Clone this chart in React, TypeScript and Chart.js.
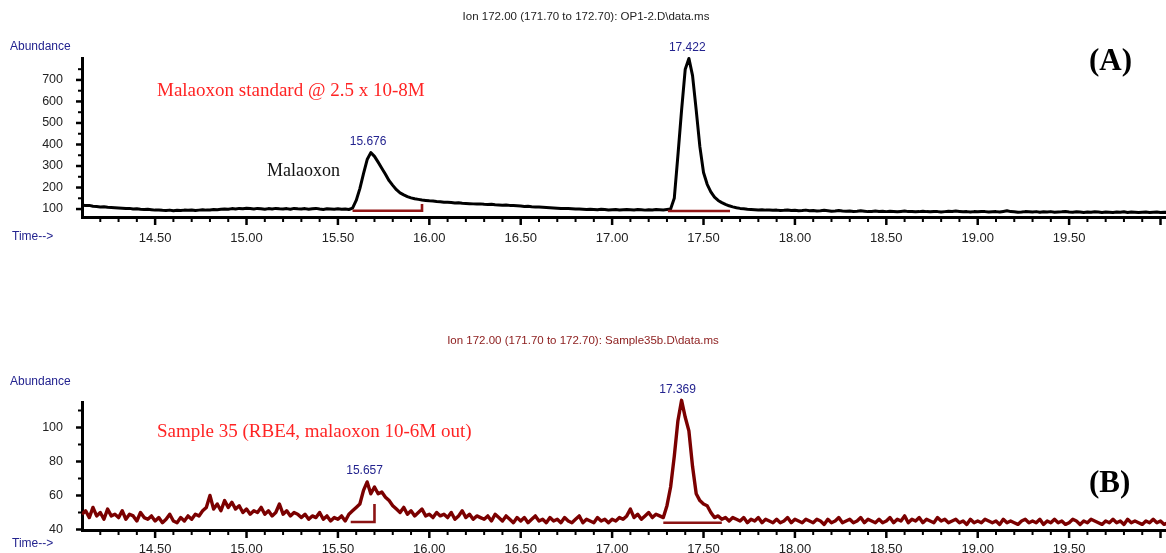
import React, { useEffect, useRef } from 'react';
import { Chart, registerables } from 'chart.js';

Chart.register(...registerables);

// ---- time axis (minutes), samples every 0.02 min from 14.10 ----
const T_START = 14.1;
const T_STEP = 0.02;

// ---- (A) Malaoxon standard, abundance ----
const abundanceA = [
  118, 116, 117, 113, 112, 110, 111, 108, 107, 106,
  105, 104, 102, 103, 100, 101, 99, 98, 99, 97,
  95, 96, 94, 93, 95, 92, 94, 93, 95, 94,
  96, 93, 95, 97, 95, 96, 98, 97, 99, 100,
  99, 102, 100, 103, 101, 104, 102, 100, 103, 101,
  99, 102, 100, 103, 101, 100, 102, 99, 103, 101,
  100, 102, 99, 101, 103, 100, 98, 101, 100, 99,
  101, 99, 100, 98, 104, 140, 195, 265, 330, 362,
  345, 318, 290, 262, 232, 210, 190, 175, 166, 158,
  152, 148, 145, 142, 140, 138, 137, 135, 134, 132,
  131, 130, 128, 129, 127, 126, 125, 124, 123, 124,
  122, 121, 122, 120, 119, 118, 119, 117, 116, 115,
  114, 112, 113, 111, 110, 109, 108, 107, 106, 105,
  104, 103, 102, 102, 101, 100, 100, 99, 98, 99,
  98, 97, 99, 98, 96, 97, 98, 96, 97, 98,
  97, 96, 98, 97, 95, 97, 96, 98, 97, 96,
  98, 100, 150, 350, 560, 750, 800, 720, 560, 390,
  270, 215, 180, 155, 140, 130, 122, 115, 110, 106,
  103, 101, 99, 98, 97, 96, 97, 95, 96, 94,
  95, 93, 94, 96, 93, 94, 92, 93, 95, 92,
  93, 91, 92, 94, 92, 90, 91, 93, 91, 90,
  91, 89, 90, 92, 90, 88, 89, 91, 89, 90,
  88, 90, 89, 87, 89, 91, 88, 89, 87, 88,
  90, 88, 87, 89, 88, 86, 88, 90, 89, 91,
  89, 87, 88, 86, 88, 87, 89, 88, 86, 87,
  88, 86, 89, 92, 88, 87, 85, 86, 88, 87,
  86, 88, 85, 87, 86, 88, 85, 86, 87, 89,
  86, 85, 87, 86, 84, 86, 85, 87, 86, 84,
  86, 85, 84, 86, 85, 87, 84, 86, 85, 84,
  85, 86, 84, 85, 86, 84, 85, 84,
];

// ---- (B) Sample 35, abundance ----
const abundanceB = [
  49, 51, 47, 53, 48, 50, 46, 52, 48, 49,
  47, 51, 46, 49, 48, 45, 50, 47, 46, 48,
  45, 47, 44, 46, 49, 45, 44, 47, 45, 48,
  46, 49, 48, 51, 53, 60, 52, 55, 51, 57,
  53, 56, 52, 54, 50, 52, 49, 51, 50, 53,
  49, 51, 48, 50, 55, 49, 51, 48, 50, 49,
  47, 49, 46, 48, 47, 50, 46, 48, 45, 47,
  46, 48, 45, 49, 51, 53, 55, 63, 68, 61,
  65, 61, 62, 59, 57, 54, 52, 50, 53, 49,
  51, 48, 50, 52, 48, 49, 47, 50, 48, 49,
  47, 50, 46, 48, 51, 47, 49, 46, 48, 47,
  46, 48, 45, 49, 47, 45, 48, 46, 44, 47,
  45, 47, 44, 46, 48, 45, 46, 44, 47, 45,
  46, 44, 47, 45, 44, 46, 48, 44, 46, 45,
  44, 47, 45, 46, 44, 46, 45, 47, 46, 48,
  52, 47, 49, 46, 48, 50, 47, 49, 48, 47,
  54, 65, 83, 104, 116, 106, 98, 77, 61, 57,
  55, 54, 50, 47, 48, 46, 47, 45, 47, 46,
  45, 47, 44, 46, 45, 47, 44, 46, 45, 44,
  46, 44, 45, 47, 44, 46, 45, 44, 46, 45,
  44, 46, 45, 43, 46, 44, 45, 47, 44, 45,
  46, 44, 45, 47, 44, 46, 45, 44, 46, 44,
  45, 47, 44, 46, 45, 48, 44, 46, 45, 47,
  44, 46, 45, 44, 47, 45, 46, 44, 45, 46,
  44, 45, 43, 46, 44, 45, 44, 46, 45, 44,
  45, 43, 46, 44, 45, 44, 43, 45, 46, 44,
  45, 44, 46, 43, 45, 44, 46, 44, 45, 43,
  44, 46, 45, 43, 45, 44, 46, 45, 44, 43,
  45, 44, 46, 44, 45, 43, 46, 44, 45, 44,
  43, 45, 44, 46, 44, 45, 43, 44,
];

// ---- axes ----
const xMajorTicks = [14.5, 15.0, 15.5, 16.0, 16.5, 17.0, 17.5, 18.0, 18.5, 19.0, 19.5, 20.0];
const xTickLabels = ['14.50', '15.00', '15.50', '16.00', '16.50', '17.00', '17.50', '18.00', '18.50', '19.00', '19.50', ''];
const xMinorTicks = [
  14.2, 14.3, 14.4, 14.6, 14.7, 14.8, 14.9, 15.1, 15.2, 15.3, 15.4, 15.6, 15.7, 15.8, 15.9,
  16.1, 16.2, 16.3, 16.4, 16.6, 16.7, 16.8, 16.9, 17.1, 17.2, 17.3, 17.4, 17.6, 17.7, 17.8, 17.9,
  18.1, 18.2, 18.3, 18.4, 18.6, 18.7, 18.8, 18.9, 19.1, 19.2, 19.3, 19.4, 19.6, 19.7, 19.8, 19.9,
];
const yTicksA = [100, 200, 300, 400, 500, 600, 700];
const yTickLabelsA = ['100', '200', '300', '400', '500', '600', '700'];
const yMinorA = [150, 250, 350, 450, 550, 650, 750];
const yTicksB = [40, 60, 80, 100];
const yTickLabelsB = ['40', '60', '80', '100'];
const yMinorB = [50, 70, 90, 110];

// ---- peaks & integration baselines ----
const peakTimesA = [15.676, 17.422];
const peakLabelsA = ['15.676', '17.422'];
const peakTimesB = [15.657, 17.369];
const peakLabelsB = ['15.657', '17.369'];

const integA1 = [{ x: 15.58, y: 92 }, { x: 15.96, y: 92 }, { x: 15.96, y: 123 }];
const integA2 = [{ x: 17.305, y: 91 }, { x: 17.645, y: 91 }];
const integB1 = [{ x: 15.57, y: 44.4 }, { x: 15.7, y: 44.4 }, { x: 15.7, y: 55 }];
const integB2 = [{ x: 17.28, y: 44 }, { x: 17.6, y: 44 }];

const SANS = "'Liberation Sans', Arial, sans-serif";
const SERIF = "'Liberation Serif', 'Times New Roman', serif";
const BLUE = '#23238f';

function series(values: number[]) {
  return values.map((v, i) => ({ x: +(T_START + i * T_STEP).toFixed(3), y: v }));
}

const decorPlugin = {
  id: 'decor',
  afterDraw(chart: any, _a: any, o: any) {
    const ctx = chart.ctx;
    const xs = chart.scales.x;
    const ys = chart.scales.y;
    const area = chart.chartArea;
    ctx.save();
    ctx.strokeStyle = '#000';
    const seg = (x1: number, y1: number, x2: number, y2: number, w: number) => {
      ctx.lineWidth = w;
      ctx.beginPath();
      ctx.moveTo(x1, y1);
      ctx.lineTo(x2, y2);
      ctx.stroke();
    };
    xMinorTicks.forEach((v) => {
      const px = xs.getPixelForValue(v);
      seg(px, area.bottom, px, area.bottom + 5, 2);
    });
    xs.ticks.forEach((t: any) => {
      const px = xs.getPixelForValue(t.value);
      seg(px, area.bottom, px, area.bottom + 8, 2.5);
    });
    o.yMinor.forEach((v: number) => {
      const py = ys.getPixelForValue(v);
      if (py >= area.top - 1) seg(area.left - 4, py, area.left, py, 2);
    });
    ys.ticks.forEach((t: any) => {
      const py = ys.getPixelForValue(t.value);
      seg(area.left - 6, py, area.left, py, 2.5);
    });
    ctx.textBaseline = 'middle';
    o.texts.forEach((t: any) => {
      ctx.font = t.font;
      ctx.fillStyle = t.color;
      ctx.textAlign = t.align || 'left';
      ctx.fillText(t.text, t.x, t.y);
    });
    const data = chart.data.datasets[0].data;
    o.peaks.forEach((p: number, i: number) => {
      let max = -Infinity;
      data.forEach((pt: any) => {
        if (Math.abs(pt.x - p) <= 0.045 && pt.y > max) max = pt.y;
      });
      const px = xs.getPixelForValue(p);
      const py = ys.getPixelForValue(max) - 11;
      ctx.font = `12px ${SANS}`;
      ctx.fillStyle = BLUE;
      ctx.textAlign = 'center';
      ctx.fillText(o.peakLabels[i], px - 2, py);
    });
    ctx.restore();
  },
};

function makeChart(canvas: HTMLCanvasElement, p: any) {
  return new Chart(canvas, {
    type: 'line',
    data: {
      datasets: [
        {
          data: series(p.values),
          borderColor: p.color,
          borderWidth: p.lineWidth,
          borderJoinStyle: 'round',
          pointRadius: 0,
          pointHoverRadius: 0,
          tension: 0,
          clip: false,
          order: 1,
        } as any,
        ...p.integ.map((d: any) => ({
          data: d,
          borderColor: p.integColor,
          borderWidth: 2.6,
          pointRadius: 0,
          pointHoverRadius: 0,
          tension: 0,
          clip: false,
          order: 0,
        })),
      ],
    },
    options: {
      animation: false,
      responsive: false,
      events: [],
      layout: { autoPadding: false, padding: { top: p.padTop, left: 0, right: 0, bottom: 0 } },
      plugins: {
        legend: { display: false },
        tooltip: { enabled: false },
        title: { display: false },
        decor: p.decor,
      } as any,
      scales: {
        x: {
          type: 'linear',
          min: 14.1,
          max: 20.03,
          grid: { display: false, drawTicks: false },
          border: { display: true, color: '#000', width: 3 },
          afterBuildTicks: (s: any) => {
            s.ticks = xMajorTicks.map((v) => ({ value: v }));
          },
          afterFit: (s: any) => {
            s.height = p.xHeight;
            s.paddingLeft = 0;
            s.paddingRight = 0;
          },
          ticks: {
            autoSkip: false,
            maxRotation: 0,
            padding: p.xPad,
            color: '#222',
            font: { family: SANS, size: 13 },
            callback: (_v: any, i: number) => xTickLabels[i] ?? '',
          },
        },
        y: {
          type: 'linear',
          min: p.yMin,
          max: p.yMax,
          grid: { display: false, drawTicks: false },
          border: { display: true, color: '#000', width: 3 },
          afterBuildTicks: (s: any) => {
            s.ticks = p.yTicks.map((v: number) => ({ value: v }));
          },
          afterFit: (s: any) => {
            s.width = 82;
            s.paddingTop = 0;
            s.paddingBottom = 0;
          },
          ticks: {
            autoSkip: false,
            padding: 19,
            color: '#222',
            font: { family: SANS, size: 12.5 },
            callback: (_v: any, i: number) => p.yLabels[i] ?? '',
          },
        },
      },
    },
    plugins: [decorPlugin],
  } as any);
}

export default function App() {
  const refA = useRef<HTMLCanvasElement>(null);
  const refB = useRef<HTMLCanvasElement>(null);

  useEffect(() => {
    document.body.style.margin = '0';
    const a = makeChart(refA.current!, {
      values: abundanceA,
      color: '#000000',
      lineWidth: 3,
      integ: [integA1, integA2],
      integColor: '#931515',
      padTop: 58,
      xHeight: 63,
      xPad: 14,
      yMin: 63,
      yMax: 802,
      yTicks: yTicksA,
      yLabels: yTickLabelsA,
      decor: {
        yMinor: yMinorA,
        peaks: peakTimesA,
        peakLabels: peakLabelsA,
        texts: [
          { text: 'Ion 172.00 (171.70 to 172.70): OP1-2.D\\data.ms', x: 586, y: 17, font: `11.5px ${SANS}`, color: '#222', align: 'center' },
          { text: 'Abundance', x: 10, y: 47, font: `12px ${SANS}`, color: BLUE },
          { text: 'Time-->', x: 12, y: 237, font: `12px ${SANS}`, color: BLUE },
          { text: 'Malaoxon standard @ 2.5 x 10-8M', x: 157, y: 91, font: `19px ${SERIF}`, color: '#ff2424' },
          { text: 'Malaoxon', x: 267, y: 171, font: `18px ${SERIF}`, color: '#111' },
          { text: '(A)', x: 1089, y: 62, font: `bold 31px ${SERIF}`, color: '#000' },
        ],
      },
    });
    const b = makeChart(refB.current!, {
      values: abundanceB,
      color: '#7b0000',
      lineWidth: 3.4,
      integ: [integB1, integB2],
      integColor: '#8c1414',
      padTop: 122,
      xHeight: 23,
      xPad: 12,
      yMin: 39.7,
      yMax: 115.0,
      yTicks: yTicksB,
      yLabels: yTickLabelsB,
      decor: {
        yMinor: yMinorB,
        peaks: peakTimesB,
        peakLabels: peakLabelsB,
        texts: [
          { text: 'Ion 172.00 (171.70 to 172.70): Sample35b.D\\data.ms', x: 583, y: 61, font: `11.5px ${SANS}`, color: '#8b1a1a', align: 'center' },
          { text: 'Abundance', x: 10, y: 102, font: `12px ${SANS}`, color: BLUE },
          { text: 'Time-->', x: 12, y: 264, font: `12px ${SANS}`, color: BLUE },
          { text: 'Sample 35 (RBE4, malaoxon 10-6M out)', x: 157, y: 152, font: `19px ${SERIF}`, color: '#ff2424' },
          { text: '(B)', x: 1089, y: 204, font: `bold 31px ${SERIF}`, color: '#000' },
        ],
      },
    });
    return () => {
      a.destroy();
      b.destroy();
    };
  }, []);

  return (
    <div style={{ position: 'relative', width: 1166, height: 553, background: '#fff' }}>
      <canvas ref={refA} width={1166} height={280} style={{ position: 'absolute', left: 0, top: 0 }} />
      <canvas ref={refB} width={1166} height={273} style={{ position: 'absolute', left: 0, top: 280 }} />
    </div>
  );
}
